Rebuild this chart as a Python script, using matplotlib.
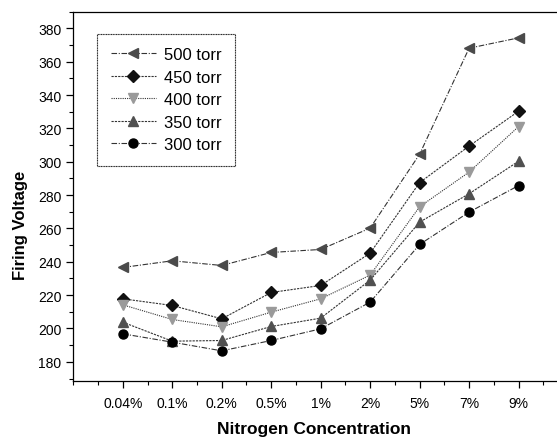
import numpy as np
import matplotlib
matplotlib.use("Agg")
import matplotlib.pyplot as plt
from matplotlib.ticker import MultipleLocator

plt.rcParams['font.family'] = ['Liberation Sans', 'DejaVu Sans']

# categories on the x axis
concentrations = ["0.04%", "0.1%", "0.2%", "0.5%", "1%", "2%", "5%", "7%", "9%"]

# firing voltage per pressure
v500 = [236.6, 240.6, 237.8, 245.6, 247.4, 260.2, 304.5, 368.1, 374.3]
v450 = [217.8, 213.8, 205.8, 221.6, 225.8, 245.2, 287.5, 309.4, 330.3]
v400 = [214.2, 205.4, 201.0, 209.8, 217.8, 232.0, 273.0, 293.8, 321.1]
v350 = [203.8, 192.4, 192.8, 201.2, 206.2, 229.0, 263.8, 280.8, 300.3]
v300 = [196.8, 191.8, 186.6, 192.8, 199.8, 215.8, 250.4, 269.8, 285.7]

labels = ["500 torr", "450 torr", "400 torr", "350 torr", "300 torr"]

fig = plt.figure(figsize=(5.57, 4.39), dpi=100)
ax = fig.add_axes([0.1316, 0.1298, 0.866, 0.8413])

x = np.arange(1, len(concentrations) + 1)

styles = [
    (v500, '<', '#4a4a4a', (0, (5, 1.5, 1, 1.5))),
    (v450, 'D', '#111111', (0, (2, 1))),
    (v400, 'v', '#9a9a9a', (0, (1, 1))),
    (v350, '^', '#505050', (0, (2, 1))),
    (v300, 'o', '#000000', (0, (5, 1.5, 1, 1.5))),
]
sizes = {'<': 7.5, 'D': 6, 'v': 7.5, '^': 7, 'o': 6.5}

for (vals, mk, col, ls), lab in zip(styles, labels):
    ax.plot(x, vals, linestyle=ls, color='#333333', linewidth=0.8,
            marker=mk, markersize=sizes[mk], markerfacecolor=col,
            markeredgecolor=col, label=lab)

ax.set_xlim(0, 9.75)
ax.set_ylim(168.5, 390)
ax.set_xticks(x)
ax.set_xticklabels(concentrations)
ax.xaxis.set_minor_locator(MultipleLocator(0.5))
ax.yaxis.set_major_locator(MultipleLocator(20))
ax.yaxis.set_minor_locator(MultipleLocator(10))
ax.tick_params(which='major', direction='out', length=5, width=0.9, labelsize=10)
ax.tick_params(which='minor', direction='out', length=3, width=0.8)
ax.tick_params(axis='x', pad=6)

for s in ax.spines.values():
    s.set_linewidth(0.9)
ax.spines['right'].set_visible(False)

ax.set_xlabel("Nitrogen Concentration", fontsize=12.5, fontweight='bold')
ax.set_ylabel("Firing Voltage", fontsize=12, fontweight='bold')
ax.xaxis.set_label_coords(0.5, -0.108)
ax.yaxis.set_label_coords(-0.094, 0.425)

leg = ax.legend(loc='upper left', bbox_to_anchor=(0.05, 0.94), borderaxespad=0,
                fontsize=12, handlelength=2.7, handletextpad=0.5,
                labelspacing=0.45, fancybox=False, framealpha=1,
                edgecolor='#222222', borderpad=0.8)
leg.get_frame().set_linewidth(0.8)
leg.get_frame().set_linestyle((0, (1, 0.5)))

fig.savefig("out.png", dpi=100)
